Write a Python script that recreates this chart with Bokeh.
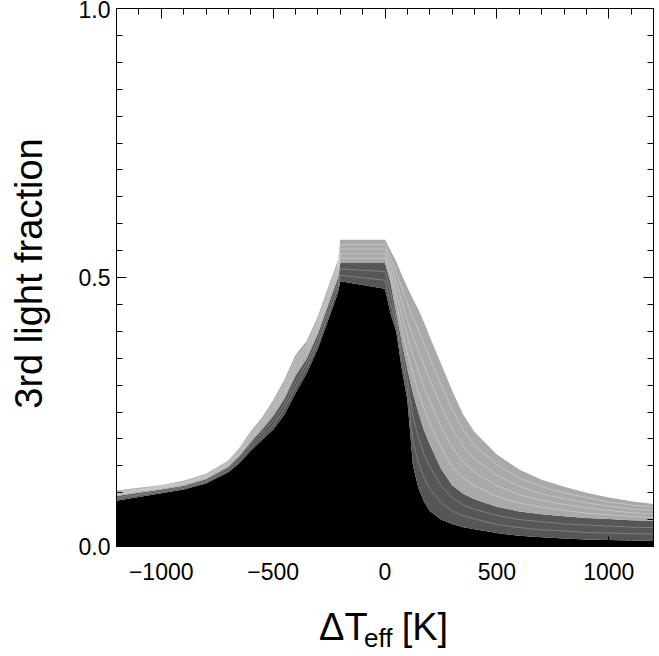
import math
from bokeh.plotting import figure
from bokeh.layouts import row, column
from bokeh.models import LinearAxis, FixedTicker, Range1d
from bokeh.core.properties import value
from bokeh.embed import file_html
from bokeh.resources import INLINE

# Temperature difference grid [K]
dteff = [-1200, -1100, -1000, -900, -800, -700, -650, -600, -550, -500, -450, -400, -350, -300, -250, -210, -200,
         0, 25, 50, 75, 100, 125, 150, 175, 200, 250, 300, 350, 400, 500, 600, 700, 800, 900, 1000, 1100, 1200]

# upper edge of the black region
black_top = [0.085, 0.092, 0.099, 0.106, 0.117, 0.138, 0.155, 0.178, 0.198, 0.217, 0.245, 0.285, 0.322, 0.368,
             0.425, 0.472, 0.493,
             0.479, 0.432, 0.400, 0.330, 0.272, 0.150, 0.108, 0.083, 0.066, 0.050, 0.042, 0.036, 0.032, 0.025,
             0.020, 0.017, 0.015, 0.013, 0.012, 0.011, 0.010]
# curves inside the dark-grey band
dark_1 = [0.088, 0.095, 0.101, 0.108, 0.120, 0.141, 0.159, 0.183, 0.204, 0.225, 0.255, 0.296, 0.331, 0.377,
          0.434, 0.481, 0.504,
          0.495, 0.451, 0.412, 0.347, 0.291, 0.195, 0.155, 0.127, 0.107, 0.082, 0.066, 0.057, 0.051, 0.041,
          0.035, 0.031, 0.029, 0.026, 0.025, 0.024, 0.023]
dark_2 = [0.091, 0.097, 0.104, 0.111, 0.122, 0.145, 0.164, 0.189, 0.211, 0.234, 0.264, 0.306, 0.340, 0.386,
          0.444, 0.490, 0.516,
          0.511, 0.471, 0.423, 0.363, 0.311, 0.240, 0.201, 0.171, 0.149, 0.113, 0.090, 0.077, 0.069, 0.058,
          0.050, 0.046, 0.042, 0.040, 0.038, 0.036, 0.035]
# upper edge of the dark-grey band
dark_top = [0.094, 0.100, 0.106, 0.113, 0.125, 0.148, 0.168, 0.194, 0.217, 0.242, 0.274, 0.317, 0.349, 0.395,
            0.453, 0.499, 0.527,
            0.527, 0.490, 0.435, 0.380, 0.330, 0.285, 0.248, 0.215, 0.190, 0.145, 0.114, 0.098, 0.088, 0.074,
            0.065, 0.060, 0.056, 0.053, 0.051, 0.049, 0.048]
# curves inside the light-grey band
light_1 = [0.096, 0.102, 0.108, 0.115, 0.127, 0.150, 0.171, 0.198, 0.222, 0.248, 0.281, 0.325, 0.356, 0.402,
           0.460, 0.506, 0.536,
           0.536, 0.502, 0.454, 0.405, 0.360, 0.320, 0.286, 0.255, 0.230, 0.184, 0.149, 0.127, 0.113, 0.093,
           0.081, 0.073, 0.067, 0.062, 0.059, 0.056, 0.054]
light_2 = [0.098, 0.104, 0.109, 0.117, 0.129, 0.153, 0.174, 0.202, 0.226, 0.254, 0.288, 0.333, 0.362, 0.408,
           0.467, 0.512, 0.544,
           0.544, 0.514, 0.473, 0.430, 0.391, 0.355, 0.325, 0.295, 0.270, 0.223, 0.184, 0.157, 0.138, 0.113,
           0.096, 0.086, 0.078, 0.072, 0.067, 0.063, 0.060]
light_3 = [0.100, 0.105, 0.111, 0.118, 0.131, 0.155, 0.178, 0.206, 0.231, 0.260, 0.296, 0.340, 0.369, 0.415,
           0.473, 0.519, 0.553,
           0.553, 0.526, 0.492, 0.455, 0.421, 0.390, 0.363, 0.336, 0.310, 0.262, 0.220, 0.186, 0.163, 0.132,
           0.112, 0.098, 0.089, 0.081, 0.075, 0.070, 0.067]
light_4 = [0.102, 0.107, 0.112, 0.120, 0.133, 0.158, 0.181, 0.210, 0.235, 0.266, 0.303, 0.348, 0.375, 0.421,
           0.480, 0.525, 0.561,
           0.561, 0.538, 0.511, 0.480, 0.452, 0.425, 0.402, 0.376, 0.350, 0.301, 0.255, 0.216, 0.188, 0.152,
           0.127, 0.111, 0.100, 0.091, 0.083, 0.077, 0.073]
# upper edge of the light-grey band
light_top = [0.104, 0.109, 0.114, 0.122, 0.135, 0.160, 0.184, 0.214, 0.240, 0.272, 0.310, 0.356, 0.382, 0.428,
             0.487, 0.532, 0.570,
             0.570, 0.550, 0.530, 0.505, 0.482, 0.460, 0.440, 0.416, 0.390, 0.340, 0.290, 0.245, 0.213, 0.171,
             0.143, 0.124, 0.111, 0.100, 0.091, 0.084, 0.079]
zeros = [0.0] * len(dteff)

x_ticks = [-1000, -500, 0, 500, 1000]
x_minor = list(range(-1200, 1201, 100))
y_ticks = [0.0, 0.5, 1.0]
y_minor = [round(i * 0.05, 2) for i in range(21)]

y_title = "3rd light fraction"
x_title_parts = ["\u0394T", "eff", "[K]"]

FONT = "Liberation Sans"
W, H = 659, 656
LEFT_W = 60      # width of the y-title strip
BOTTOM_H = 56    # height of the x-title strip


def blank(width, height):
    f = figure(width=width, height=height, x_range=Range1d(0, width), y_range=Range1d(0, height),
               output_backend="svg", toolbar_location=None, min_border=0,
               x_axis_location=None, y_axis_location=None)
    f.grid.visible = False
    f.outline_line_color = None
    f.background_fill_color = "white"
    f.border_fill_color = "white"
    return f


p = figure(width=W - LEFT_W, height=H - BOTTOM_H, x_range=Range1d(-1200, 1200), y_range=Range1d(0, 1),
           output_backend="svg", toolbar_location=None,
           min_border_left=116 - LEFT_W, min_border_right=6, min_border_top=8,
           min_border_bottom=(H - BOTTOM_H) - 546)
p.xgrid.visible = False
p.ygrid.visible = False
p.outline_line_color = "black"
p.background_fill_color = "white"
p.border_fill_color = "white"

p.varea(x=dteff, y1=zeros, y2=black_top, fill_color="#000000")
p.varea(x=dteff, y1=black_top, y2=dark_top, fill_color="#565656")
p.varea(x=dteff, y1=dark_top, y2=light_top, fill_color="#a9a9a9")
for yy in (dark_1, dark_2):
    p.line(x=dteff, y=yy, line_color="white", line_alpha=0.3, line_width=0.8)
for yy in (light_1, light_2, light_3, light_4):
    p.line(x=dteff, y=yy, line_color="white", line_alpha=0.4, line_width=0.8)


def style(ax, ticks, minor, labels):
    ax.ticker = FixedTicker(ticks=ticks, minor_ticks=minor)
    ax.major_tick_in = 10
    ax.major_tick_out = 0
    ax.minor_tick_in = 6
    ax.minor_tick_out = 0
    ax.axis_line_color = "black"
    ax.major_tick_line_color = "black"
    ax.minor_tick_line_color = "black"
    if labels:
        ax.major_label_text_font = FONT
        ax.major_label_text_font_size = "23px"
        ax.major_label_text_color = "black"
    else:
        ax.major_label_text_font_size = "0px"
        ax.major_label_text_color = None
        ax.major_label_standoff = 0


xa = p.xaxis[0]
style(xa, x_ticks, x_minor, True)
xa.major_label_standoff = 16
xa.major_label_overrides = {-1000: "\u22121000", -500: "\u2212500"}
ya = p.yaxis[0]
style(ya, y_ticks, y_minor, True)
ya.major_label_standoff = 6
ya.major_label_overrides = {0.0: "0.0", 0.5: "0.5", 1.0: "1.0"}

top = LinearAxis()
style(top, x_ticks, x_minor, False)
p.add_layout(top, "above")
right = LinearAxis()
style(right, y_ticks, y_minor, False)
p.add_layout(right, "right")

# y-title strip (data units = strip pixels, y measured up from the bottom)
ly = blank(LEFT_W, H)
ly.text(x=[28], y=[H - 273], text=[y_title], text_font=value(FONT), text_font_size=value("38px"),
        text_baseline="middle", text_align="center", angle=math.pi / 2, text_color="black")

# x-title strip (x in strip units, y measured up from strip bottom)
bx = blank(W - LEFT_W, BOTTOM_H)
bx.text(x=[313 - LEFT_W, 404 - LEFT_W], y=[H - 626, H - 626], text=[x_title_parts[0], x_title_parts[2]],
        text_font=value(FONT), text_font_size=value("38px"), text_baseline="middle", text_align="center",
        text_color="black")
bx.text(x=[352 - LEFT_W], y=[H - 637], text=[x_title_parts[1]],
        text_font=value(FONT), text_font_size=value("26px"), text_baseline="middle", text_align="center",
        text_color="black")

layout = row(ly, column(p, bx, spacing=0), spacing=0)

open("out.html", "w").write(file_html(layout, INLINE))
